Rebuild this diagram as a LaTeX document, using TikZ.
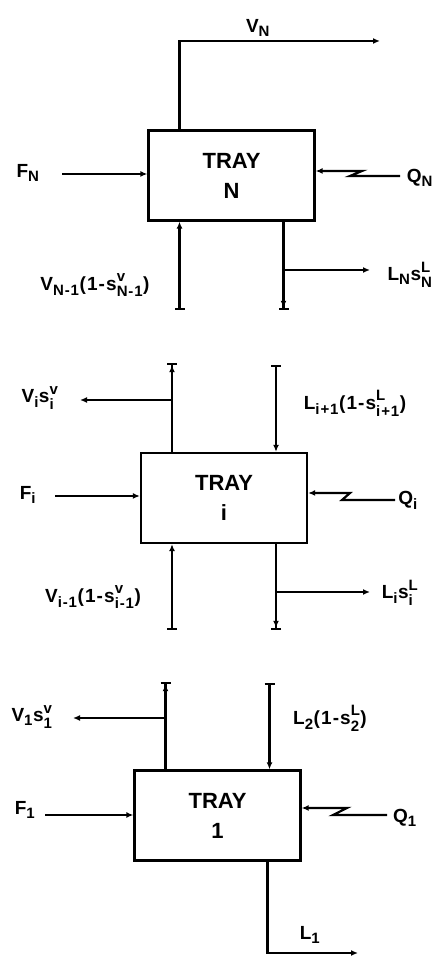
\documentclass[tikz,border=0pt]{standalone}
\usepackage{amsmath}
\usepackage{fontspec}
\setmainfont{Liberation Sans}
\usepackage{tikz}
\usetikzlibrary{arrows.meta}
\DeclareMathSizes{19}{19}{15}{12}
\newcommand{\sv}[1]{\text{\bfseries #1}}
\newcommand{\ud}[2]{^{\sv{\raisebox{1.5pt}{#1}}}_{\sv{\raisebox{-1.5pt}{#2}}}}
\tikzset{tray/.style = {shape = rectangle, draw, line width = 2.3pt, minimum width = 166pt, minimum height = 90pt, align = center, font = \fontsize{22}{30}\selectfont\bfseries}}
\tikzset{tag/.style = {font = \fontsize{19}{22}\selectfont\bfseries\addfontfeatures{LetterSpace = 6}}}
\tikzset{flow/.style = {line width = 2.2pt, -{Latex[length = 7pt, width = 6pt]}}}
\tikzset{tickin/.style = {line width = 2.2pt, {Bar[width = 10pt]}-{Latex[length = 7pt, width = 6pt]}}}
\tikzset{tickout/.style = {line width = 2.2pt, -{Latex[length = 7pt, width = 6pt] Bar[width = 10pt]}}}
\tikzset{heat/.style = {line width = 2.2pt, -{Latex[length = 7pt, width = 6pt]}}}
\begin{document}
\begin{tikzpicture}[x = 1pt, y = 1pt]
	\useasboundingbox (0, 0) rectangle (440, 958);

	% tray N
	\node[tray] (tN) at (231.5, 782.5) {TRAY\\N};
	\node[tag] (fN) at (28, 785) {$\sv{F}_{\sv{N}}$};
	\node[tag] (qN) at (420, 780) {$\sv{Q}_{\sv{N}}$};
	\node[tag] (vN) at (258, 930) {$\sv{V}_{\sv{N}}$};
	\node[tag] (vNm) at (95, 673) {$\sv{V}_{\sv{N-1}}\sv{(1-s}\ud{v}{N-1}\sv{)}$};
	\node[tag] (lN) at (410, 683) {$\sv{L}_{\sv{N}}\sv{s}\ud{L}{N}$};
	\coordinate (aN) at (62, 784);
	\coordinate (bN) at (380, 917);
	\coordinate (cN) at (179.5, 648);
	\coordinate (dN) at (283.5, 648);
	\coordinate (eN) at (283.5, 688);
	\coordinate (gN) at (370, 688);

	\draw[flow] (aN) -- (aN -| tN.west);
	\draw[heat] (400, 782) -- (350, 782) -- (362, 787) -- ([yshift = 4.5pt]tN.east);
	\draw[flow] ([xshift = -52pt]tN.north) |- (bN);
	\draw[tickin] (cN) -- (cN |- tN.south);
	\draw[tickout] (dN |- tN.south) -- (dN);
	\draw[flow] (eN) -- (gN);

	% tray i
	\node[tray] (ti) at (224, 460) {TRAY\\i};
	\node[tag] (fi) at (28, 463) {$\sv{F}_{\sv{i}}$};
	\node[tag] (qi) at (408, 458) {$\sv{Q}_{\sv{i}}$};
	\node[tag] (vi) at (40, 560) {$\sv{V}_{\sv{i}}\sv{s}\ud{v}{i}$};
	\node[tag] (lip) at (355, 555) {$\sv{L}_{\sv{i+1}}\sv{(1-s}\ud{L}{i+1}\sv{)}$};
	\node[tag] (vim) at (93, 361) {$\sv{V}_{\sv{i-1}}\sv{(1-s}\ud{v}{i-1}\sv{)}$};
	\node[tag] (li) at (400, 365) {$\sv{L}_{\sv{i}}\sv{s}\ud{L}{i}$};
	\coordinate (ai) at (55, 462);
	\coordinate (bi) at (172, 595);
	\coordinate (ci) at (172, 558);
	\coordinate (di) at (80, 558);
	\coordinate (ei) at (276, 593);
	\coordinate (gi) at (172, 328);
	\coordinate (hi) at (276, 328);
	\coordinate (ji) at (276, 366);
	\coordinate (ki) at (370, 366);

	\draw[flow] (ai) -- (ai -| ti.west);
	\draw[heat] (395, 458) -- (342, 458) -- (350, 465) -- ([yshift = 5pt]ti.east);
	\draw[tickout] (bi |- ti.north) -- (bi);
	\draw[flow] (ci) -- (di);
	\draw[tickin] (ei) -- (ei |- ti.north);
	\draw[tickin] (gi) -- (gi |- ti.south);
	\draw[tickout] (hi |- ti.south) -- (hi);
	\draw[flow] (ji) -- (ki);

	% tray 1
	\node[tray] (t1) at (217.5, 142.5) {TRAY\\1};
	\node[tag] (f1) at (25, 148) {$\sv{F}_{\sv{1}}$};
	\node[tag] (q1) at (405, 140) {$\sv{Q}_{\sv{1}}$};
	\node[tag] (v1) at (32, 241) {$\sv{V}_{\sv{1}}\sv{s}\ud{v}{1}$};
	\node[tag] (l2) at (330, 240) {$\sv{L}_{\sv{2}}\sv{(1-s}\ud{L}{2}\sv{)}$};
	\node[tag] (l1) at (310, 23) {$\sv{L}_{\sv{1}}$};
	\coordinate (a1) at (45, 143);
	\coordinate (b1) at (165.5, 276);
	\coordinate (c1) at (165.5, 240);
	\coordinate (d1) at (73, 240);
	\coordinate (e1) at (269.5, 275);
	\coordinate (g1) at (267.5, 5);
	\coordinate (h1) at (358, 5);

	\draw[flow] (a1) -- (a1 -| t1.west);
	\draw[heat] (387, 143) -- (333, 143) -- (347, 150) -- ([yshift = 7.5pt]t1.east);
	\draw[tickout] (b1 |- t1.north) -- (b1);
	\draw[flow] (c1) -- (d1);
	\draw[tickin] (e1) -- (e1 |- t1.north);
	\draw[flow] (g1 |- t1.south) -- (g1) -- (h1);
\end{tikzpicture}
\end{document}
